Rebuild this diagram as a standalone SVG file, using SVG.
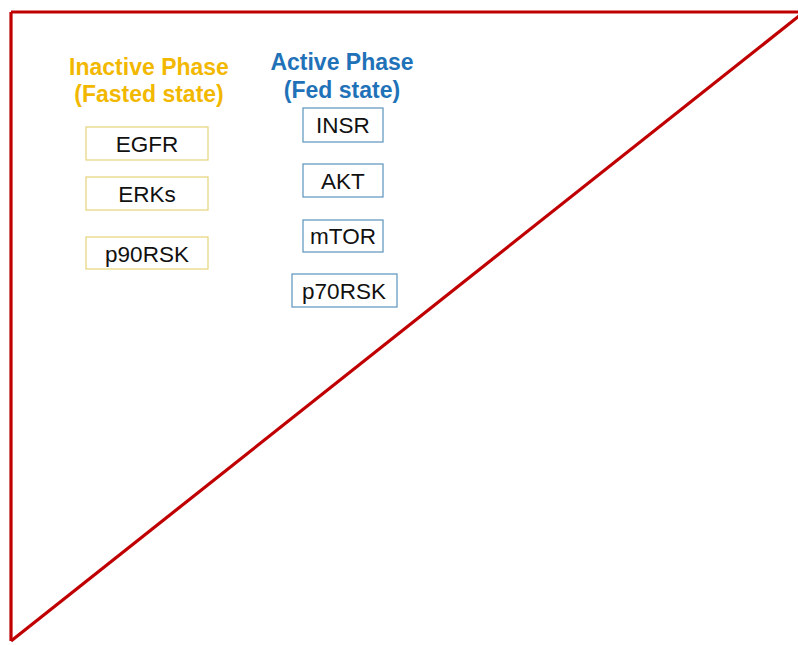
<svg xmlns="http://www.w3.org/2000/svg" width="798" height="645" viewBox="0 0 798 645">
  <style>
    .frame { fill: none; stroke: #C00000; stroke-width: 3.2; }
    .head { font-family: "Liberation Sans", Arial, sans-serif; font-size: 23px; font-weight: bold; text-anchor: middle; }
    .inactive { fill: #F2B800; }
    .active { fill: #1F72B8; }
    .box-in { fill: #fff; stroke: #E6D27A; stroke-width: 1.2; }
    .box-ac { fill: #fff; stroke: #5A93BD; stroke-width: 1.2; }
    .label { font-family: "Liberation Sans", Arial, sans-serif; font-size: 22.5px; fill: #111; text-anchor: middle; }
  </style>
  <rect width="798" height="645" fill="#fff"/>

  <!-- frame: top edge, left edge and diagonal -->
  <g id="connectors">
    <path class="frame" d="M 11 12 L 798 12"/>
    <path class="frame" d="M 11 12 L 11 641"/>
    <path class="frame" d="M 11 641 L 799 16"/>
  </g>

  <!-- column headings -->
  <g id="heading-inactive">
    <text class="head inactive" x="149" y="75">Inactive Phase</text>
    <text class="head inactive" x="149" y="102">(Fasted state)</text>
  </g>
  <g id="heading-active">
    <text class="head active" x="342" y="70">Active Phase</text>
    <text class="head active" x="342" y="98">(Fed state)</text>
  </g>

  <!-- inactive phase nodes -->
  <g id="egfr">
    <rect class="box-in" x="86" y="127" width="122" height="33"/>
    <text class="label" x="147" y="152">EGFR</text>
  </g>
  <g id="erks">
    <rect class="box-in" x="86" y="177" width="122" height="33"/>
    <text class="label" x="147" y="202">ERKs</text>
  </g>
  <g id="p90rsk">
    <rect class="box-in" x="86" y="237" width="122" height="32"/>
    <text class="label" x="147" y="262">p90RSK</text>
  </g>

  <!-- active phase nodes -->
  <g id="insr">
    <rect class="box-ac" x="303" y="108" width="80" height="34"/>
    <text class="label" x="343" y="133">INSR</text>
  </g>
  <g id="akt">
    <rect class="box-ac" x="303" y="164" width="80" height="33"/>
    <text class="label" x="343" y="189">AKT</text>
  </g>
  <g id="mtor">
    <rect class="box-ac" x="303" y="220" width="80" height="32"/>
    <text class="label" x="343" y="244">mTOR</text>
  </g>
  <g id="p70rsk">
    <rect class="box-ac" x="292" y="274" width="105" height="33"/>
    <text class="label" x="344" y="299">p70RSK</text>
  </g>
</svg>
